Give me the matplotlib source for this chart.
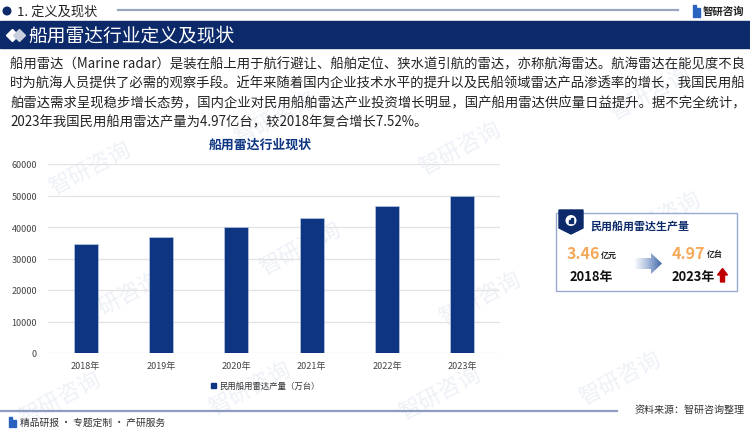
import numpy as np
import matplotlib.pyplot as plt
from matplotlib.patches import Polygon, Rectangle, Circle
from matplotlib.colors import LinearSegmentedColormap

plt.rcParams['font.family'] = ['Noto Sans CJK SC', 'DejaVu Sans']

# ---- 数据 ----
years = ["2018年", "2019年", "2020年", "2021年", "2022年", "2023年"]
output = [34600, 36900, 40100, 43000, 46800, 49700]   # 万台
series_name = "民用船用雷达产量（万台）"
yticks = [0, 10000, 20000, 30000, 40000, 50000, 60000]

body_lines = [
    "船用雷达（Marine radar）是装在船上用于航行避让、船舶定位、狭水道引航的雷达，亦称航海雷达。航海雷达在能见度不良",
    "时为航海人员提供了必需的观察手段。近年来随着国内企业技术水平的提升以及民船领域雷达产品渗透率的增长，我国民用船",
    "舶雷达需求呈现稳步增长态势，国内企业对民用船舶雷达产业投资增长明显，国产船用雷达供应量日益提升。据不完全统计，",
    "2023年我国民用船用雷达产量为4.97亿台，较2018年复合增长7.52%。",
]

NAVY = "#0c2a6a"
BAR = "#0d3581"
ORANGE = "#f6a85a"

W, H = 750, 431
fig = plt.figure(figsize=(W / 100, H / 100), dpi=100)

# 背景层 (像素坐标)
bg = fig.add_axes([0, 0, 1, 1], zorder=0)
bg.set_xlim(0, W); bg.set_ylim(H, 0); bg.axis("off")

# 水印 (淡色)
wm_pos = [(90, 170), (275, 120), (460, 150), (650, 95), (120, 300), (300, 250),
          (480, 300), (660, 220), (60, 400), (250, 390), (440, 395), (620, 380)]
for xx, yy in wm_pos:
    bg.text(xx, yy, "智研咨询", fontsize=16, color="#eef1f7", rotation=28,
            ha="center", va="center", zorder=0.5)

# 顶部小标题
bg.add_patch(Circle((7, 12), 3.8, color=NAVY, zorder=2))
bg.text(17, 12, "1. 定义及现状", fontsize=9.5, color="#222222", va="center")
bg.plot([118, 678], [11, 11], color="#9aa5bf", lw=1.6)
bg.add_patch(Rectangle((693, 6), 3, 12, color="#2a62c0", zorder=2))
bg.add_patch(Rectangle((697, 9), 3, 9, color="#2a62c0", zorder=2))
bg.text(703, 12, "智研咨询", fontsize=7.5, color="#222222", va="center", fontweight="bold")

# 横幅
bg.add_patch(Rectangle((0, 22), W, 27, color=NAVY, zorder=2))
bg.plot([12], [35.5], "D", color="white", ms=6, zorder=3)
bg.plot([19], [35.5], "D", color="#c9cfdc", ms=6, zorder=3)
bg.text(28, 35.5, "船用雷达行业定义及现状", fontsize=13.5, color="white", va="center", zorder=4)

# 正文
for i, line in enumerate(body_lines):
    bg.text(10, 64 + i * 19.5, line, fontsize=9.6, color="#222222", va="center")

# 图表标题
bg.text(260, 145, "船用雷达行业现状", fontsize=9.3, color=BAR, fontweight="bold",
        ha="center", va="center")

# 图例
bg.add_patch(Rectangle((211, 384), 5, 5, color=BAR, zorder=2))
bg.text(219, 386.5, series_name, fontsize=6, color="#333333", va="center")

# ---- 柱状图 ----
ax = fig.add_axes([48 / W, 1 - 354 / H, 452 / W, 189 / H], zorder=1)
ax.set_facecolor("none")
x = np.arange(len(years))
ax.bar(x, output, width=0.32, color=BAR, edgecolor="#c9d3ea", linewidth=0.4, zorder=3)
ax.set_xlim(-0.5, len(years) - 0.5)
ax.set_ylim(0, 60000)
ax.set_yticks(yticks)
ax.set_xticks(x)
ax.set_xticklabels(years)
ax.tick_params(axis="both", length=0, labelsize=6.5, labelcolor="#444444")
ax.tick_params(axis="y", pad=8)
ax.tick_params(axis="x", pad=6)
ax.grid(axis="y", color="#e3e3e3", lw=0.9, zorder=0)
for s in ax.spines.values():
    s.set_visible(False)

# ---- 右侧信息框 ----
ov = fig.add_axes([0, 0, 1, 1], zorder=2)
ov.set_xlim(0, W); ov.set_ylim(H, 0); ov.axis("off")
ov.add_patch(Rectangle((556, 214), 181, 78, facecolor="white", edgecolor="#9aa9d4", lw=1))
ov.add_patch(Polygon([(559, 211), (583, 211), (583, 229), (571, 235), (559, 229)],
                     closed=True, color=NAVY))
ov.add_patch(Circle((571, 221.5), 5.5, facecolor="white", edgecolor="none"))
ov.add_patch(Rectangle((568.5, 221), 1.6, 3, color=NAVY))
ov.add_patch(Rectangle((571, 219), 1.6, 5, color=NAVY))
ov.text(590, 226, "民用船用雷达生产量", fontsize=7.9, color=NAVY, fontweight="bold", va="center")

ov.text(567, 254, "3.46", fontsize=11.5, color=ORANGE, fontweight="bold", va="center")
ov.text(601, 255, "亿元", fontsize=5.8, color="#222222", fontweight="bold", va="center")
ov.text(570, 277, "2018年", fontsize=9.3, color="#111111", fontweight="bold", va="center")

ov.text(672, 254, "4.97", fontsize=11.5, color=ORANGE, fontweight="bold", va="center")
ov.text(707, 255, "亿台", fontsize=5.8, color="#222222", fontweight="bold", va="center")
ov.text(672, 277, "2023年", fontsize=9.3, color="#111111", fontweight="bold", va="center")

# 渐变箭头
arrow = Polygon([(634, 259), (651, 259), (651, 254), (662, 264.5), (651, 275),
                 (651, 270), (634, 270)], closed=True, facecolor="none", edgecolor="none")
ov.add_patch(arrow)
grad = np.linspace(0, 1, 64).reshape(1, -1)
cmap = LinearSegmentedColormap.from_list("g", ["#ffffff", "#a9bbdc", "#4468aa"])
im = ov.imshow(grad, extent=[634, 662, 275, 254], cmap=cmap, aspect="auto", zorder=3)
im.set_clip_path(arrow)
ov.set_xlim(0, W); ov.set_ylim(H, 0)

# 红色上升箭头
ov.add_patch(Polygon([(717.5, 276), (722.5, 269.5), (727.5, 276), (724.5, 276),
                      (724.5, 283), (720.5, 283), (720.5, 276)], closed=True, color="#c00000"))

# 页脚
ov.plot([0, 617], [412, 412], color="#8e9cc2", lw=1.6)
ov.text(745, 410, "资料来源：智研咨询整理", fontsize=7.2, color="#333333", ha="right", va="center")
ov.add_patch(Rectangle((9, 418), 3, 10, color="#2a62c0"))
ov.add_patch(Rectangle((13, 421), 3, 7, color="#2a62c0"))
ov.text(20, 423, "精品研报 · 专题定制 · 产研服务", fontsize=7, color="#333333", va="center")

fig.savefig("out.png", dpi=100)
